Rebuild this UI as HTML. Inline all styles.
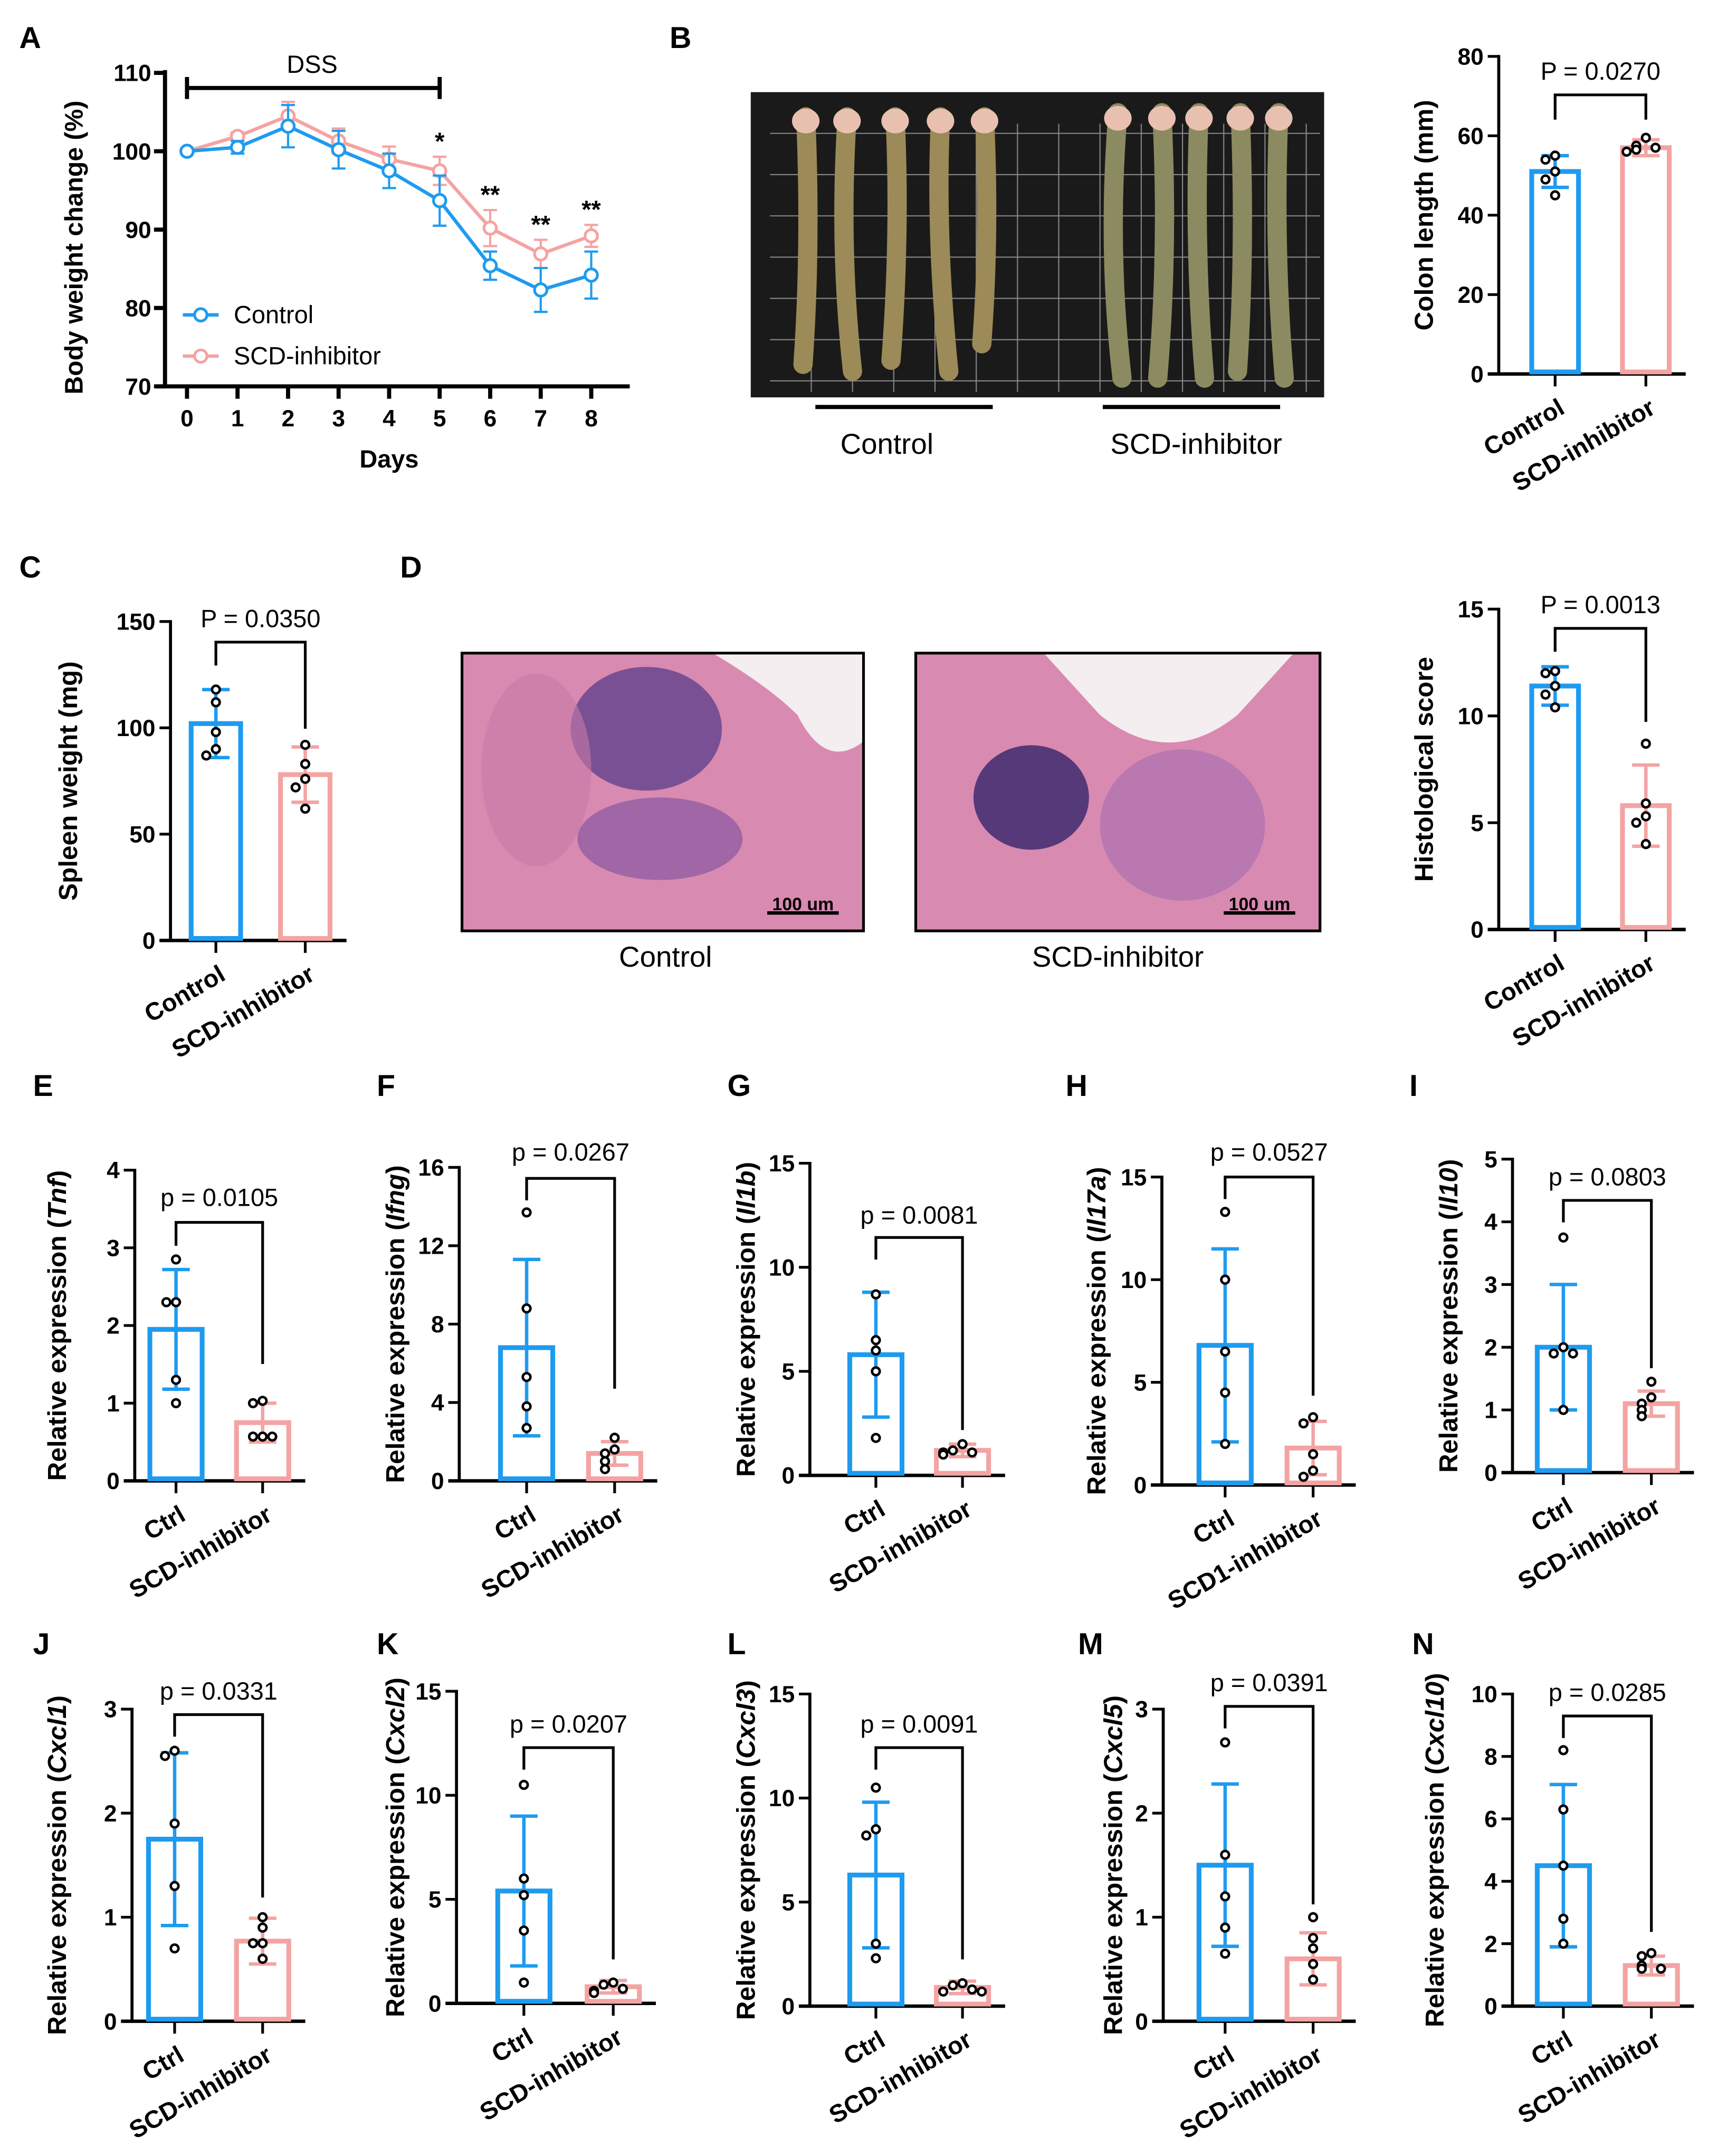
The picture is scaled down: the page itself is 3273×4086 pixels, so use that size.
<!DOCTYPE html>
<html><head><meta charset="utf-8"><style>
html,body{margin:0;padding:0;background:#fff;}
svg{display:block;}
text{font-family:"Liberation Sans",Arial,sans-serif;}
</style></head><body>
<svg id="fig" xmlns="http://www.w3.org/2000/svg" width="3273" height="4086" viewBox="0 0 1256 1568">
<rect width="1256" height="1568" fill="#fff"/>
<g>
<rect x="546" y="67" width="417" height="222" fill="#1a1a1a"/>
<g stroke="#888" stroke-width="0.8">
<line x1="560" y1="97" x2="960" y2="97"/><line x1="560" y1="127" x2="960" y2="127"/><line x1="560" y1="157" x2="960" y2="157"/><line x1="560" y1="187" x2="960" y2="187"/><line x1="560" y1="217" x2="960" y2="217"/><line x1="560" y1="247" x2="960" y2="247"/><line x1="560" y1="277" x2="960" y2="277"/>
<line x1="590" y1="90" x2="590" y2="285"/><line x1="620" y1="90" x2="620" y2="285"/><line x1="650" y1="90" x2="650" y2="285"/><line x1="680" y1="90" x2="680" y2="285"/><line x1="710" y1="90" x2="710" y2="285"/><line x1="740" y1="90" x2="740" y2="285"/><line x1="770" y1="90" x2="770" y2="285"/><line x1="800" y1="90" x2="800" y2="285"/><line x1="830" y1="90" x2="830" y2="285"/><line x1="860" y1="90" x2="860" y2="285"/><line x1="890" y1="90" x2="890" y2="285"/><line x1="920" y1="90" x2="920" y2="285"/><line x1="950" y1="90" x2="950" y2="285"/>
</g>
<g stroke="#9c8a58" stroke-width="14" stroke-linecap="round" fill="none">
<path d="M586 85 Q590 180 584 265"/><path d="M616 85 Q610 180 620 270"/><path d="M651 85 Q655 170 648 262"/><path d="M684 85 Q680 170 690 270"/><path d="M716 85 Q720 170 714 250"/>
<path d="M813 82 Q805 180 816 275" stroke="#8c8a60"/><path d="M845 82 Q850 180 842 275" stroke="#8c8a60"/><path d="M872 82 Q868 180 876 275" stroke="#8c8a60"/><path d="M902 82 Q906 180 900 270" stroke="#8c8a60"/><path d="M930 82 Q926 180 934 275" stroke="#8c8a60"/>
</g>
<g fill="#e8c0b0"><ellipse cx="586" cy="88" rx="10" ry="9"/><ellipse cx="616" cy="88" rx="10" ry="9"/><ellipse cx="651" cy="88" rx="10" ry="9"/><ellipse cx="684" cy="88" rx="10" ry="9"/><ellipse cx="716" cy="88" rx="10" ry="9"/><ellipse cx="813" cy="86" rx="10" ry="9"/><ellipse cx="845" cy="86" rx="10" ry="9"/><ellipse cx="872" cy="86" rx="10" ry="9"/><ellipse cx="902" cy="86" rx="10" ry="9"/><ellipse cx="930" cy="86" rx="10" ry="9"/></g>
</g>
<line x1="593" y1="296" x2="722" y2="296" stroke="#000" stroke-width="3"/>
<line x1="802" y1="296" x2="931" y2="296" stroke="#000" stroke-width="3"/>
<text x="645" y="330" font-size="21" text-anchor="middle">Control</text>
<text x="870" y="330" font-size="21" text-anchor="middle">SCD-inhibitor</text>
<g>
<rect x="336" y="475" width="292" height="202" fill="#d98ab0" stroke="#000" stroke-width="2"/>
<path d="M520 476 L627 476 L627 540 Q600 560 580 520 Q560 500 520 476Z" fill="#f4eef0"/>
<ellipse cx="470" cy="530" rx="55" ry="45" fill="#5a3c8c" opacity="0.75"/>
<ellipse cx="480" cy="610" rx="60" ry="30" fill="#7a4e9e" opacity="0.6"/>
<ellipse cx="390" cy="560" rx="40" ry="70" fill="#c77aa8" opacity="0.6"/>
<line x1="558" y1="664" x2="610" y2="664" stroke="#000" stroke-width="2.5"/>
<text x="584" y="662" font-size="13" font-weight="bold" text-anchor="middle">100 um</text>
</g>
<g>
<rect x="666" y="475" width="294" height="202" fill="#d98ab0" stroke="#000" stroke-width="2"/>
<path d="M760 476 L940 476 L900 520 Q850 560 800 520 Z" fill="#f4eef0"/>
<ellipse cx="750" cy="580" rx="42" ry="38" fill="#3e2a70" opacity="0.85"/>
<ellipse cx="860" cy="600" rx="60" ry="55" fill="#a06ab0" opacity="0.55"/>
<line x1="890" y1="664" x2="942" y2="664" stroke="#000" stroke-width="2.5"/>
<text x="916" y="662" font-size="13" font-weight="bold" text-anchor="middle">100 um</text>
</g>
<text x="484" y="703" font-size="21" text-anchor="middle">Control</text>
<text x="813" y="703" font-size="21" text-anchor="middle">SCD-inhibitor</text>
<g id="letters" font-size="22" font-weight="bold">
<text x="14" y="35">A</text>
<text x="487" y="35">B</text>
<text x="14" y="420">C</text>
<text x="291" y="420">D</text>
<text x="24" y="797">E</text>
<text x="274" y="797">F</text>
<text x="529" y="797">G</text>
<text x="775" y="797">H</text>
<text x="1025" y="797">I</text>
<text x="24" y="1203">J</text>
<text x="274" y="1203">K</text>
<text x="529" y="1203">L</text>
<text x="784" y="1203">M</text>
<text x="1027" y="1203">N</text>
</g>
</svg>
<script>
const days = [0,1,2,3,4,5,6,7,8];
const aCtrlMean = [100,100.5,103.2,100.2,97.5,93.7,85.4,82.3,84.2];
const aCtrlSD = [0,0.8,2.7,2.4,2.2,3.2,1.8,2.8,3.0];
const aScdMean = [100,101.9,104.5,101.3,99.0,97.5,90.2,86.9,89.2];
const aScdSD = [0,0.5,1.8,1.6,1.6,1.8,2.3,1.8,1.4];
const aStars = ['','','','','','*','**','**','**'];
const aYTicks = [70,80,90,100,110];
const colonMeans=[51,57], colonSD=[4,2], colonCtrlPts=[55,54,51,49,45], colonScdPts=[59.5,57.5,56.5,57,56];
const spleenMeans=[102,78], spleenSD=[16,13], spleenCtrlPts=[118,112,98,90,87], spleenScdPts=[92,83,76,72,62];
const histoMeans=[11.4,5.8], histoSD=[0.9,1.9], histoCtrlPts=[12.1,12.0,11.4,11.0,10.4], histoScdPts=[8.7,5.9,5.3,5.0,4.0];
const tnfMeans=[1.95,0.75], tnfSD=[0.77,0.25], tnfCtrlPts=[2.85,2.3,2.3,1.3,1.0], tnfScdPts=[1.03,1.0,0.57,0.57,0.57];
const ifngMeans=[6.8,1.4], ifngSD=[4.5,0.6], ifngCtrlPts=[13.7,8.8,5.3,3.8,2.7], ifngScdPts=[2.2,1.6,1.4,1.0,0.6];
const il1bMeans=[5.8,1.2], il1bSD=[3.0,0.3], il1bCtrlPts=[8.7,6.5,6.0,5.0,1.8], il1bScdPts=[1.5,1.2,1.1,1.1,1.0];
const il17Means=[6.8,1.8], il17SD=[4.7,1.3], il17CtrlPts=[13.3,10.0,6.5,4.5,2.0], il17ScdPts=[3.3,3.0,1.5,0.7,0.4];
const il10Means=[2.0,1.1], il10SD=[1.0,0.2], il10CtrlPts=[3.75,2.0,1.9,1.9,1.0], il10ScdPts=[1.45,1.2,1.1,1.0,0.9];
const cxcl1Means=[1.75,0.77], cxcl1SD=[0.83,0.22], cxcl1CtrlPts=[2.6,2.55,1.9,1.3,0.7], cxcl1ScdPts=[1.0,0.9,0.75,0.75,0.6];
const cxcl2Means=[5.4,0.8], cxcl2SD=[3.6,0.3], cxcl2CtrlPts=[10.5,6.0,5.2,3.5,1.0], cxcl2ScdPts=[1.0,0.9,0.7,0.6,0.5];
const cxcl3Means=[6.3,0.9], cxcl3SD=[3.5,0.3], cxcl3CtrlPts=[10.5,8.5,8.2,3.0,2.3], cxcl3ScdPts=[1.1,1.0,0.8,0.7,0.7];
const cxcl5Means=[1.5,0.6], cxcl5SD=[0.78,0.25], cxcl5CtrlPts=[2.68,1.6,1.2,0.9,0.65], cxcl5ScdPts=[1.0,0.8,0.7,0.55,0.4];
const cxcl10Means=[4.5,1.3], cxcl10SD=[2.6,0.3], cxcl10CtrlPts=[8.2,6.3,4.5,2.8,2.0], cxcl10ScdPts=[1.7,1.6,1.3,1.2,1.2];

const NS='http://www.w3.org/2000/svg';
const svg=document.getElementById('fig');
const BLUE='#1e9bef', PINK='#f4a3a3';
function mk(tag,attrs,parent){const e=document.createElementNS(NS,tag);for(const k in attrs)e.setAttribute(k,attrs[k]);(parent||svg).appendChild(e);return e;}

(function(){
  const g=mk('g',{});
  
  
  const ax=120, y0=281, yT=53, x0=136, step=36.75;
  const ys=v=>y0-(v-70)/40*(y0-yT);
  const xs=d=>x0+d*step;
  let l=mk('line',{x1:ax,y1:yT-2,x2:ax,y2:y0,stroke:'#000','stroke-width':3},g);
  
  
  l=mk('line',{x1:ax-6,y1:y0,x2:458,y2:y0,stroke:'#000','stroke-width':3},g);
  
  
  aYTicks.forEach(v=>{
    mk('line',{x1:ax-8,y1:ys(v),x2:ax,y2:ys(v),stroke:'#000','stroke-width':3},g);
    const t=mk('text',{x:ax-10,y:ys(v)+6,'font-size':17,'font-weight':'bold','text-anchor':'end'},g);
    t.textContent=v;
    
    
  });
  days.forEach(d=>{
    mk('line',{x1:xs(d),y1:y0,x2:xs(d),y2:y0+9,stroke:'#000','stroke-width':3},g);
    const t=mk('text',{x:xs(d),y:y0+29,'font-size':17,'font-weight':'bold','text-anchor':'middle'},g);
    t.textContent=d;
    
    
  });
  let t=mk('text',{x:283,y:340,'font-size':18,'font-weight':'bold','text-anchor':'middle'},g);
  t.textContent='Days';
  
  
  t=mk('text',{x:0,y:0,'font-size':18.5,'font-weight':'bold','text-anchor':'middle',transform:'translate(60,180) rotate(-90)'},g);
  t.textContent='Body weight change (%)';
  
  
  mk('line',{x1:xs(0),y1:64,x2:xs(5),y2:64,stroke:'#000','stroke-width':3},g);
  mk('line',{x1:xs(0),y1:56,x2:xs(0),y2:72,stroke:'#000','stroke-width':3},g);
  mk('line',{x1:xs(5),y1:56,x2:xs(5),y2:72,stroke:'#000','stroke-width':3},g);
  t=mk('text',{x:227,y:53,'font-size':18,'text-anchor':'middle'},g);
  t.textContent='DSS';
  
  
  function series(means,sds,col,name){
    const sg=mk('g',{},g);
    
    
    means.forEach((m,i)=>{
      if(sds[i]>0){
        mk('line',{x1:xs(days[i]),y1:ys(m-sds[i]),x2:xs(days[i]),y2:ys(m+sds[i]),stroke:col,'stroke-width':1.6},sg);
        mk('line',{x1:xs(days[i])-5,y1:ys(m-sds[i]),x2:xs(days[i])+5,y2:ys(m-sds[i]),stroke:col,'stroke-width':1.6},sg);
        mk('line',{x1:xs(days[i])-5,y1:ys(m+sds[i]),x2:xs(days[i])+5,y2:ys(m+sds[i]),stroke:col,'stroke-width':1.6},sg);
      }
    });
    mk('polyline',{points:means.map((m,i)=>xs(days[i])+','+ys(m)).join(' '),fill:'none',stroke:col,'stroke-width':2.5},sg);
    means.forEach((m,i)=>{
      const c=mk('circle',{cx:xs(days[i]),cy:ys(m),r:4.5,fill:'#fff',stroke:col,'stroke-width':2},sg);
      
      
    });
  }
  series(aScdMean,aScdSD,PINK,'scd-inhibitor-series');
  series(aCtrlMean,aCtrlSD,BLUE,'control-series');
  aStars.forEach((s,i)=>{
    if(!s)return;
    const top=Math.max(aScdMean[i]+aScdSD[i],aCtrlMean[i]+aCtrlSD[i]);
    const st=mk('text',{x:xs(days[i]),y:ys(top)-5,'font-size':18,'font-weight':'bold','text-anchor':'middle'},g);
    st.textContent=s;
    
    
  });
  [[BLUE,'Control',229],[PINK,'SCD-inhibitor',259]].forEach(([c,lab,y])=>{
    const lg=mk('g',{},g);
    
    
    mk('line',{x1:133,y1:y,x2:159,y2:y,stroke:c,'stroke-width':2.5},lg);
    mk('circle',{cx:146,cy:y,r:4.5,fill:'#fff',stroke:c,'stroke-width':2},lg);
    const tt=mk('text',{x:170,y:y+6,'font-size':18},lg);
    tt.textContent=lab;
  });
})();

function barPanel(c){
  const g=mk('g',{});
  
  
  const ys=v=>c.y0-v/c.max*(c.y0-c.yT);
  const xEnd=c.cx[1]+c.bw/2+12;
  let l=mk('line',{x1:c.ax,y1:c.yT-1,x2:c.ax,y2:c.y0,stroke:'#000','stroke-width':2.2},g);
  
  
  l=mk('line',{x1:c.ax-8,y1:c.y0,x2:xEnd,y2:c.y0,stroke:'#000','stroke-width':2.5},g);
  
  
  c.ticks.forEach(v=>{
    mk('line',{x1:c.ax-8,y1:ys(v),x2:c.ax,y2:ys(v),stroke:'#000','stroke-width':2},g);
    const t=mk('text',{x:c.ax-11,y:ys(v)+6,'font-size':17,'font-weight':'bold','text-anchor':'end'},g);
    t.textContent=v;
    
    
  });
  const cols=[BLUE,PINK];
  [0,1].forEach(i=>{
    const x=c.cx[i], m=c.means[i], s=c.sds[i];
    mk('line',{x1:x,y1:c.y0,x2:x,y2:c.y0+9,stroke:'#000','stroke-width':2},g);
    const b=mk('rect',{x:x-c.bw/2,y:ys(m),width:c.bw,height:c.y0-ys(m)-1.5,fill:'#fff',stroke:cols[i],'stroke-width':3.5},g);
    
    
    mk('line',{x1:x,y1:ys(Math.max(0,m-s)),x2:x,y2:ys(m+s),stroke:cols[i],'stroke-width':2.5},g);
    mk('line',{x1:x-10,y1:ys(m+s),x2:x+10,y2:ys(m+s),stroke:cols[i],'stroke-width':2.5},g);
    mk('line',{x1:x-10,y1:ys(Math.max(0,m-s)),x2:x+10,y2:ys(Math.max(0,m-s)),stroke:cols[i],'stroke-width':2.5},g);
    const placed=[];
    c.pts[i].forEach(v=>{
      const py=ys(v);
      const k=placed.filter(p=>Math.abs(p-py)<7).length;
      placed.push(py);
      const off=k===0?0:(k%2?-1:1)*Math.ceil(k/2)*7;
      const p=mk('circle',{cx:x+off,cy:py,r:2.8,fill:'#fff',stroke:'#000','stroke-width':1.8},g);
      
      
    });
    const lt=mk('text',{x:0,y:0,'font-size':18,'font-weight':'bold','text-anchor':'end',transform:'translate('+(x+8)+','+(c.y0+28)+') rotate(-30)'},g);
    lt.textContent=c.xl[i];
    
    
  });
  mk('polyline',{points:c.cx[0]+','+c.dl+' '+c.cx[0]+','+c.by+' '+c.cx[1]+','+c.by+' '+c.cx[1]+','+c.dr,fill:'none',stroke:'#000','stroke-width':2},g);
  const pt=mk('text',{x:(c.cx[0]+c.cx[1])/2,y:c.py,'font-size':18,'text-anchor':'middle'},g);
  pt.textContent=c.p;
  
  
  const yl=mk('text',{x:0,y:0,'font-size':19,'font-weight':'bold','text-anchor':'middle',transform:'translate('+c.lx+','+((c.y0+c.yT)/2)+') rotate(-90)'},g);
  
  
  const t1=mk('tspan',{},yl); t1.textContent=c.yl[0];
  if(c.yl[1]){const t2=mk('tspan',{'font-style':'italic'},yl); t2.textContent=c.yl[1]; const t3=mk('tspan',{},yl); t3.textContent=')';}
}
const CS=['Control','SCD-inhibitor'], CT=['Ctrl','SCD-inhibitor'];
barPanel({name:'panel-b-colon-length',ax:1090,y0:272,yT:41,max:80,ticks:[0,20,40,60,80],cx:[1131,1197],bw:34,means:colonMeans,sds:colonSD,pts:[colonCtrlPts,colonScdPts],p:'P = 0.0270',py:58,by:69,dl:87,dr:87,lx:1042,yl:['Colon length (mm)'],xl:CS});
barPanel({name:'panel-c-spleen-weight',ax:124,y0:684,yT:452,max:150,ticks:[0,50,100,150],cx:[157,222],bw:36,means:spleenMeans,sds:spleenSD,pts:[spleenCtrlPts,spleenScdPts],p:'P = 0.0350',py:456,by:467,dl:484,dr:530,lx:56,yl:['Spleen weight (mg)'],xl:CS});
barPanel({name:'panel-d-histological-score',ax:1090,y0:676,yT:443,max:15,ticks:[0,5,10,15],cx:[1131,1197],bw:34,means:histoMeans,sds:histoSD,pts:[histoCtrlPts,histoScdPts],p:'P = 0.0013',py:446,by:457,dl:474,dr:525,lx:1042,yl:['Histological score'],xl:CS});
barPanel({name:'panel-e-tnf',ax:98,y0:1077,yT:851,max:4,ticks:[0,1,2,3,4],cx:[128,191],bw:38,means:tnfMeans,sds:tnfSD,pts:[tnfCtrlPts,tnfScdPts],p:'p = 0.0105',py:877,by:889,dl:906,dr:992,lx:48,yl:['Relative expression (','Tnf'],xl:CT});
barPanel({name:'panel-f-ifng',ax:334,y0:1077,yT:849,max:16,ticks:[0,4,8,12,16],cx:[383,447],bw:38,means:ifngMeans,sds:ifngSD,pts:[ifngCtrlPts,ifngScdPts],p:'p = 0.0267',py:844,by:857,dl:873,dr:1010,lx:294,yl:['Relative expression (','Ifng'],xl:CT});
barPanel({name:'panel-g-il1b',ax:589,y0:1073,yT:846,max:15,ticks:[0,5,10,15],cx:[637,700],bw:38,means:il1bMeans,sds:il1bSD,pts:[il1bCtrlPts,il1bScdPts],p:'p = 0.0081',py:890,by:900,dl:916,dr:1040,lx:549,yl:['Relative expression (','Il1b'],xl:CT});
barPanel({name:'panel-h-il17a',ax:845,y0:1080,yT:856,max:15,ticks:[0,5,10,15],cx:[891,955],bw:38,means:il17Means,sds:il17SD,pts:[il17CtrlPts,il17ScdPts],p:'p = 0.0527',py:844,by:856,dl:872,dr:1015,lx:804,yl:['Relative expression (','Il17a'],xl:['Ctrl','SCD1-inhibitor']});
barPanel({name:'panel-i-il10',ax:1100,y0:1071,yT:843,max:5,ticks:[0,1,2,3,4,5],cx:[1137,1201],bw:38,means:il10Means,sds:il10SD,pts:[il10CtrlPts,il10ScdPts],p:'p = 0.0803',py:862,by:873,dl:889,dr:995,lx:1060,yl:['Relative expression (','Il10'],xl:CT});
barPanel({name:'panel-j-cxcl1',ax:96,y0:1470,yT:1243,max:3,ticks:[0,1,2,3],cx:[127,191],bw:38,means:cxcl1Means,sds:cxcl1SD,pts:[cxcl1CtrlPts,cxcl1ScdPts],p:'p = 0.0331',py:1236,by:1247,dl:1263,dr:1380,lx:48,yl:['Relative expression (','Cxcl1'],xl:CT});
barPanel({name:'panel-k-cxcl2',ax:332,y0:1457,yT:1230,max:15,ticks:[0,5,10,15],cx:[381,446],bw:38,means:cxcl2Means,sds:cxcl2SD,pts:[cxcl2CtrlPts,cxcl2ScdPts],p:'p = 0.0207',py:1260,by:1271,dl:1287,dr:1425,lx:294,yl:['Relative expression (','Cxcl2'],xl:CT});
barPanel({name:'panel-l-cxcl3',ax:589,y0:1459,yT:1232,max:15,ticks:[0,5,10,15],cx:[637,700],bw:38,means:cxcl3Means,sds:cxcl3SD,pts:[cxcl3CtrlPts,cxcl3ScdPts],p:'p = 0.0091',py:1260,by:1271,dl:1287,dr:1425,lx:549,yl:['Relative expression (','Cxcl3'],xl:CT});
barPanel({name:'panel-m-cxcl5',ax:846,y0:1470,yT:1243,max:3,ticks:[0,1,2,3],cx:[891,955],bw:38,means:cxcl5Means,sds:cxcl5SD,pts:[cxcl5CtrlPts,cxcl5ScdPts],p:'p = 0.0391',py:1230,by:1241,dl:1257,dr:1385,lx:816,yl:['Relative expression (','Cxcl5'],xl:CT});
barPanel({name:'panel-n-cxcl10',ax:1100,y0:1459,yT:1232,max:10,ticks:[0,2,4,6,8,10],cx:[1137,1201],bw:38,means:cxcl10Means,sds:cxcl10SD,pts:[cxcl10CtrlPts,cxcl10ScdPts],p:'p = 0.0285',py:1237,by:1248,dl:1264,dr:1405,lx:1050,yl:['Relative expression (','Cxcl10'],xl:CT});
</script>
</body></html>
